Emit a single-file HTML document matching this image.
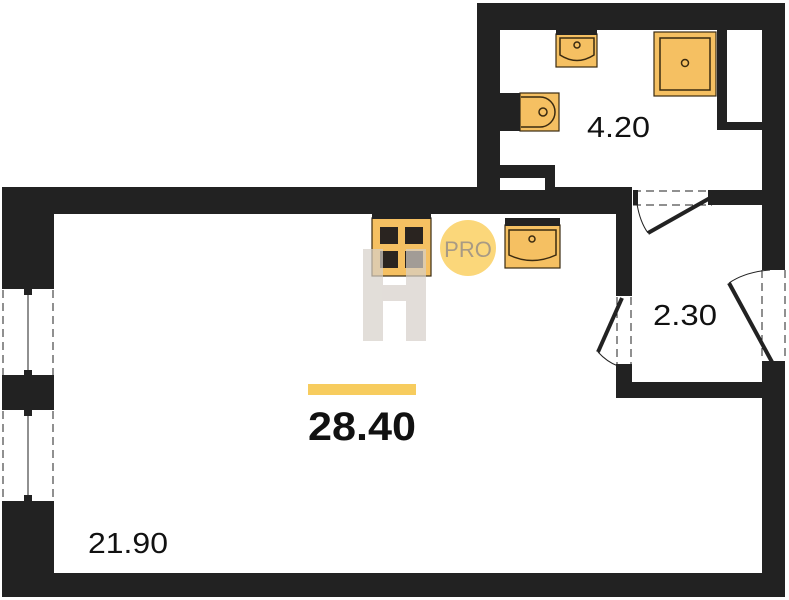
<!DOCTYPE html>
<html><head><meta charset="utf-8"><style>
html,body{margin:0;padding:0;background:#fff;}
svg{display:block;}
text{font-family:"Liberation Sans",sans-serif;}
</style></head><body>
<svg width="789" height="600" viewBox="0 0 789 600" xmlns="http://www.w3.org/2000/svg">
<g fill="#222">
<rect x="2" y="187" width="630" height="27"/>
<rect x="2" y="187" width="52" height="410"/>
<rect x="2" y="573" width="783" height="24"/>
<rect x="762" y="363" width="23" height="234"/>
<rect x="616" y="382" width="169" height="16"/>
<rect x="616" y="205" width="16" height="90"/>
<rect x="616" y="368" width="16" height="30"/>
<rect x="712" y="190" width="73" height="15"/>
<rect x="762" y="190" width="23" height="77"/>
<rect x="477" y="3" width="308" height="27"/>
<rect x="477" y="3" width="23" height="200"/>
<rect x="762" y="3" width="23" height="200"/>
<rect x="717" y="30" width="10" height="100"/>
<rect x="717" y="122" width="45" height="8"/>
<rect x="500" y="165" width="55" height="25"/>
<rect x="500" y="190" width="132" height="15"/>
</g>
<rect x="500" y="178" width="45" height="12" fill="#fff"/>
<g fill="#fff"><rect x="2" y="287" width="52" height="90"/><rect x="2" y="408" width="52" height="95"/></g>
<g stroke="#222" stroke-dasharray="8,5" stroke-width="1" fill="none">
<line x1="3" y1="290" x2="3" y2="375"/><line x1="53" y1="290" x2="53" y2="375"/>
<line x1="3" y1="411" x2="3" y2="500"/><line x1="53" y1="411" x2="53" y2="500"/>
<line x1="633" y1="191" x2="712" y2="191"/><line x1="633" y1="205" x2="712" y2="205"/>
<line x1="617" y1="297" x2="617" y2="366"/><line x1="631" y1="297" x2="631" y2="366"/>
<line x1="762" y1="270" x2="762" y2="361"/><line x1="785" y1="270" x2="785" y2="361"/>
</g>
<g fill="#222">
<rect x="2" y="285" width="52" height="4"/><rect x="2" y="375" width="52" height="4"/>
<rect x="2" y="406" width="52" height="4"/><rect x="2" y="501" width="52" height="4"/>
<rect x="24" y="289" width="8" height="6"/><rect x="24" y="370" width="8" height="6"/>
<rect x="24" y="410" width="8" height="6"/><rect x="24" y="495" width="8" height="6"/>
<rect x="633" y="190" width="5" height="15"/><rect x="708" y="190" width="5" height="15"/>
<rect x="616" y="291" width="16" height="5"/><rect x="616" y="364" width="16" height="5"/>
<rect x="762" y="265" width="23" height="5"/><rect x="762" y="361" width="23" height="5"/>
</g>
<g stroke="#222" stroke-width="1"><line x1="28" y1="293" x2="28" y2="372"/><line x1="28" y1="414" x2="28" y2="498"/></g>
<g stroke="#222" stroke-width="4"><line x1="710" y1="198" x2="648" y2="233"/><line x1="772" y1="362" x2="729" y2="283"/><line x1="622" y1="298" x2="598" y2="352"/></g>
<g stroke="#222" stroke-width="1" fill="none">
<path d="M637 204 Q640 222 648 233"/><path d="M729 283 Q745 272 770 270"/><path d="M598 352 Q607 362 618 366"/>
</g>
<g stroke="#3a2a10" stroke-width="1.2">
<rect x="556" y="34" width="41" height="33" fill="#f5c062"/>
<rect x="654" y="32" width="62" height="64" fill="#f5c062"/>
<rect x="520" y="93" width="39" height="38" fill="#f5c062"/>
<rect x="372" y="218" width="59" height="58" fill="#f5c062"/>
<rect x="505" y="225" width="55" height="43" fill="#f5c062"/>
</g>
<rect x="556" y="30" width="41" height="5" fill="#222"/>
<rect x="505" y="218" width="55" height="8" fill="#222"/>
<rect x="372" y="214" width="59" height="5" fill="#222"/>
<rect x="500" y="93" width="20" height="38" fill="#222"/>
<g stroke="#3a2a10" stroke-width="1.5" fill="none">
<path d="M560 38 H594 V55 Q577 66 560 55 Z"/><circle cx="577" cy="45" r="3"/>
<rect x="660" y="38" width="50" height="52"/><circle cx="685" cy="63" r="3.5"/>
<path d="M521 97 H540 A15 15 0 0 1 540 127 H521"/><circle cx="543" cy="112" r="4"/>
<path d="M509 230 H556 V255 Q532 266 509 255 Z"/><circle cx="532" cy="239" r="3"/>
</g>
<g fill="#2a2420"><rect x="380" y="227" width="18" height="17"/><rect x="405" y="227" width="18" height="17"/><rect x="380" y="251" width="18" height="17"/><rect x="405" y="251" width="18" height="17"/></g>
<g fill="#d6d0c9" opacity="0.7"><rect x="363" y="249" width="20" height="92"/><rect x="406" y="249" width="20" height="92"/><rect x="383" y="285" width="23" height="16"/></g>
<circle cx="468" cy="248" r="28" fill="#fbd77a"/>
<text x="468" y="257" font-size="22" fill="#a89a84" text-anchor="middle">PRO</text>
<rect x="308" y="384" width="108" height="11" fill="#f7cc5e"/>
<text x="308" y="440" font-size="40" font-weight="bold" fill="#111" textLength="108" lengthAdjust="spacingAndGlyphs">28.40</text>
<text x="88" y="553" font-size="29" fill="#111" textLength="80" lengthAdjust="spacingAndGlyphs">21.90</text>
<text x="587" y="137" font-size="29" fill="#111" textLength="63" lengthAdjust="spacingAndGlyphs">4.20</text>
<text x="653" y="325" font-size="29" fill="#111" textLength="64" lengthAdjust="spacingAndGlyphs">2.30</text>
</svg>
</body></html>
